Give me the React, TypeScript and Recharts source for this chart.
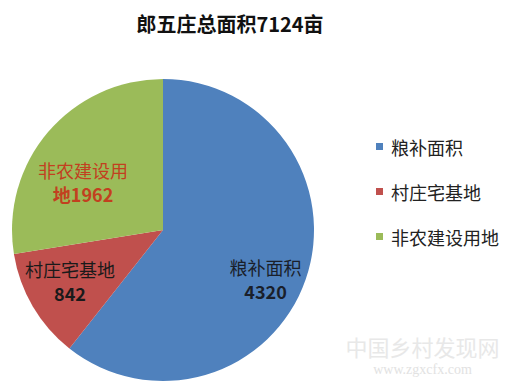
import React from 'react';
import { PieChart, Pie, Cell, Legend } from 'recharts';

const categories = ['粮补面积', '村庄宅基地', '非农建设用地'];
const areaValues = [4320, 842, 1962];
const labelLines = [
  ['粮补面积', '4320'],
  ['村庄宅基地', '842'],
  ['非农建设用', '地1962'],
];
const titleText = '郎五庄总面积7124亩';

const COLORS = ['#4F81BD', '#C0504D', '#9BBB59'];
const LABEL_COLORS = ['#1A1F2B', '#1A1A1A', '#C2401F'];
// label placement tweaks: radius factor and angle nudge (deg)
const LABEL_PLACE = [
  { r: 0.75, da: -6 },
  { r: 0.7, da: -2 },
  { r: 0.62, da: 9 },
];

const FONT = '"Noto Sans CJK SC", "Liberation Sans", sans-serif';
const RADIAN = Math.PI / 180;

const data = categories.map((name, i) => ({ name, value: areaValues[i], lines: labelLines[i] }));

const renderLabel = (props: any) => {
  const { cx, cy, midAngle, outerRadius, index } = props;
  const place = LABEL_PLACE[index];
  const a = (midAngle + place.da) * RADIAN;
  const r = outerRadius * place.r;
  const x = cx + r * Math.cos(a);
  const y = cy - r * Math.sin(a);
  const lines: string[] = data[index].lines;
  return (
    <g>
      <text
        x={x}
        y={y - 11}
        textAnchor="middle"
        dominantBaseline="central"
        fill={LABEL_COLORS[index]}
        fontSize={18}
        fontFamily={FONT}
      >
        {lines[0]}
      </text>
      <text
        x={x}
        y={y + 13}
        textAnchor="middle"
        dominantBaseline="central"
        fill={LABEL_COLORS[index]}
        fontSize={18}
        fontWeight={700}
        fontFamily={FONT}
      >
        {lines[1]}
      </text>
    </g>
  );
};

const renderLegend = () => (
  <div style={{ fontFamily: FONT, fontSize: 18, color: '#222' }}>
    {categories.map((name, i) => (
      <div key={name} style={{ display: 'flex', alignItems: 'center', height: 45 }}>
        <span style={{ width: 7, height: 7, background: COLORS[i], marginRight: 8, display: 'inline-block' }} />
        <span>{name}</span>
      </div>
    ))}
  </div>
);

const App: React.FC = () => {
  return (
    <div style={{ position: 'absolute', left: 0, top: 0, width: 516, height: 389, background: '#fff', overflow: 'hidden' }}>
      {/* Title */}
      <div
        style={{
          position: 'absolute',
          left: 0,
          top: 9,
          width: 460,
          textAlign: 'center',
          fontFamily: FONT,
          fontWeight: 700,
          fontSize: 20,
          color: '#111',
        }}
      >
        {titleText}
      </div>

      <PieChart width={516} height={389}>
        <Pie
          data={data}
          dataKey="value"
          nameKey="name"
          cx={158}
          cy={225}
          outerRadius={151}
          startAngle={90}
          endAngle={-270}
          stroke="none"
          label={renderLabel}
          labelLine={false}
          isAnimationActive={false}
        >
          {data.map((d, i) => (
            <Cell key={d.name} fill={COLORS[i]} />
          ))}
        </Pie>
        <Legend
          layout="vertical"
          content={renderLegend}
          wrapperStyle={{ left: 376, top: 124, width: 140 }}
        />
      </PieChart>

      {/* Watermark */}
      <div style={{ position: 'absolute', left: 340, top: 330, width: 165, textAlign: 'center', fontFamily: FONT, fontSize: 22, color: '#e8e8e8' }}>
        中国乡村发现网
      </div>
      <div style={{ position: 'absolute', left: 340, top: 362, width: 165, textAlign: 'center', fontFamily: '"Liberation Serif", serif', fontSize: 14, color: '#e2e2e2' }}>
        www.zgxcfx.com
      </div>
    </div>
  );
};

export default App;
